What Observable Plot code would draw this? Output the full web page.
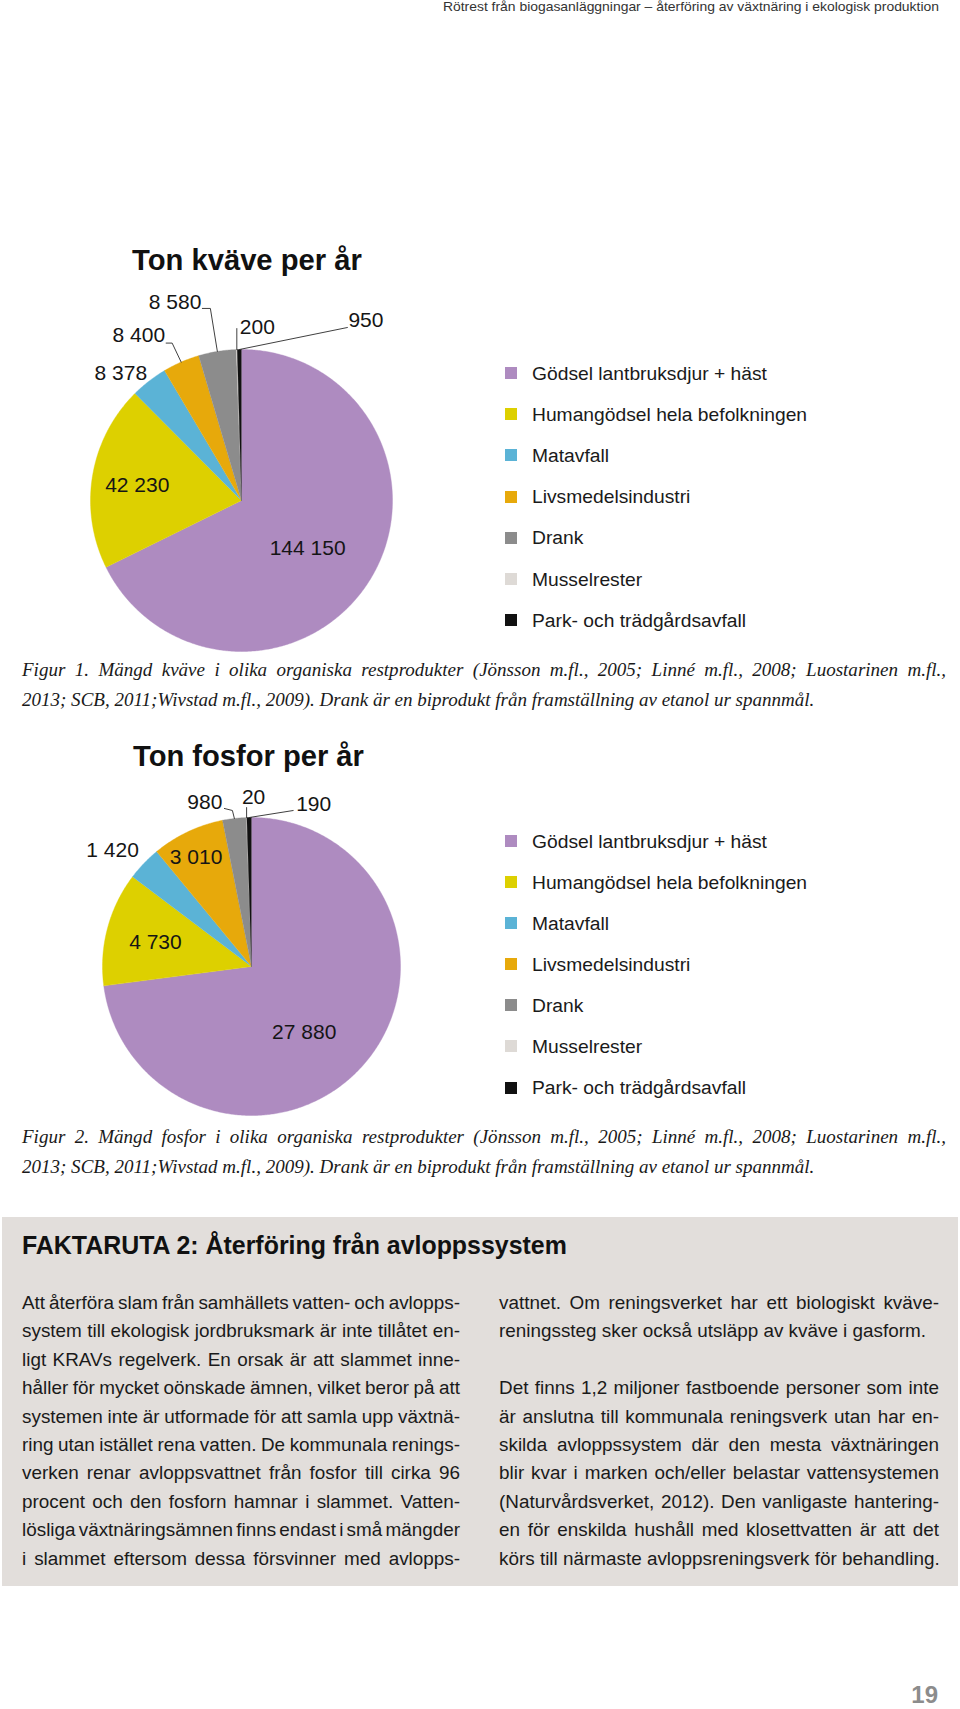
<!DOCTYPE html>
<html><head><meta charset="utf-8">
<script src="https://cdn.jsdelivr.net/npm/d3@7"></script>
<script src="https://cdn.jsdelivr.net/npm/@observablehq/plot@0.6"></script>
<style>
html,body{margin:0;padding:0;background:#fff;}
#page{position:relative;width:960px;height:1709px;overflow:hidden;font-family:"Liberation Sans",Arial,Helvetica,sans-serif;color:#1a1a1a;}
.abs{position:absolute;white-space:pre;line-height:1;}
#box{position:absolute;left:2px;top:1217px;width:956px;height:369px;background:#e2dedb;}
.sw{position:absolute;width:12px;height:12px;}
</style></head><body><div id="page"><div id="box"></div></div>
<script>
// ---------- data ----------
const categories = ["Gödsel lantbruksdjur + häst","Humangödsel hela befolkningen","Matavfall","Livsmedelsindustri","Drank","Musselrester","Park- och trädgårdsavfall"];
const colors = ["#ae8bc0","#ddd000","#5bb3d6","#e7a90b","#8c8c8c","#dedad6","#111111"];
const nitrogenValues = [144150, 42230, 8378, 8400, 8580, 200, 950];
const phosphorusValues = [27880, 4730, 1420, 3010, 980, 20, 190];
const nitrogenTitle = "Ton kväve per år";
const phosphorusTitle = "Ton fosfor per år";
const headerText = "Rötrest från biogasanläggningar – återföring av växtnäring i ekologisk produktion";
const caption1 = ["Figur 1. Mängd kväve i olika organiska restprodukter (Jönsson m.fl., 2005; Linné m.fl., 2008; Luostarinen m.fl.,",
  "2013; SCB, 2011;Wivstad m.fl., 2009). Drank är en biprodukt från framställning av etanol ur spannmål."];
const caption2 = ["Figur 2. Mängd fosfor i olika organiska restprodukter (Jönsson m.fl., 2005; Linné m.fl., 2008; Luostarinen m.fl.,",
  "2013; SCB, 2011;Wivstad m.fl., 2009). Drank är en biprodukt från framställning av etanol ur spannmål."];
const boxTitle = "FAKTARUTA 2: Återföring från avloppssystem";
const leftColumn = [
  "Att återföra slam från samhällets vatten- och avlopps-",
  "system till ekologisk jordbruksmark är inte tillåtet en-",
  "ligt KRAVs regelverk. En orsak är att slammet inne-",
  "håller för mycket oönskade ämnen, vilket beror på att",
  "systemen inte är utformade för att samla upp växtnä-",
  "ring utan istället rena vatten. De kommunala renings-",
  "verken renar avloppsvattnet från fosfor till cirka 96",
  "procent och den fosforn hamnar i slammet. Vatten-",
  "lösliga växtnäringsämnen finns endast i små mängder",
  "i slammet eftersom dessa försvinner med avlopps-"];
const rightColumn = [
  "vattnet. Om reningsverket har ett biologiskt kväve-",
  "reningssteg sker också utsläpp av kväve i gasform.",
  "",
  "Det finns 1,2 miljoner fastboende personer som inte",
  "är anslutna till kommunala reningsverk utan har en-",
  "skilda avloppssystem där den mesta växtnäringen",
  "blir kvar i marken och/eller belastar vattensystemen",
  "(Naturvårdsverket, 2012). Den vanligaste hantering-",
  "en för enskilda hushåll med klosettvatten är att det",
  "körs till närmaste avloppsreningsverk för behandling."];
const rightJustified = [true, false, false, true, true, true, true, true, true, false];
const pageNumber = "19";

// label placement (nudges in px, relative to slice geometry)
const nitrogenLabelLayout = [
  {mode:"in", k:0.50, dx:2, dy:8},
  {mode:"in", k:0.70, dx:0, dy:2},
  {mode:"out", leader:[], anchor:"end", dx:-2, dy:-8},
  {mode:"out", leader:[[-9,-19],[-15,-19]], anchor:"end", dx:-1, dy:-8},
  {mode:"out", leader:[[-7,-43],[-15,-43]], anchor:"end", dx:-1, dy:-6},
  {mode:"out", leader:[[0,-21]], anchor:"start", dx:3, dy:-1},
  {mode:"out", leader:[[108,-22]], anchor:"start", dx:1, dy:-7}
];
const phosphorusLabelLayout = [
  {mode:"in", k:0.56, dx:-10, dy:11},
  {mode:"in", k:0.66, dx:-1, dy:1},
  {mode:"out", leader:[], anchor:"end", dx:-5, dy:-13},
  {mode:"in", k:0.82, dx:-3, dy:1},
  {mode:"out", leader:[[-2,-8],[-10,-10]], anchor:"end", dx:-2, dy:-6},
  {mode:"out", leader:[[0,-10]], anchor:"middle", dx:7, dy:-10},
  {mode:"out", leader:[[44,-7]], anchor:"start", dx:3, dy:-6}
];

// ---------- helpers ----------
const page = document.getElementById("page");
const SANS = '"Liberation Sans", Arial, Helvetica, sans-serif';
const SERIF = '"Liberation Serif", "Times New Roman", serif';
const ASC = {sans: 0.8465, serif: 0.8375};
const fmt = d3.formatLocale({decimal: ",", thousands: "\u00a0", grouping: [3], currency: ["", " kr"]}).format(",d");

function measure(str, font) {
  const c = measure.c || (measure.c = document.createElement("canvas").getContext("2d"));
  c.font = font; return c.measureText(str).width;
}
function fitSize(str, base, target, weight, style, fam, lo, hi) {
  const w = measure(str, `${style||"normal"} ${weight||"normal"} ${base}px ${fam}`);
  return Math.max(lo, Math.min(hi, base * target / w));
}
function textAt(str, o) {
  const el = document.createElement("div");
  el.className = "abs";
  el.textContent = str;
  const fam = o.serif ? SERIF : SANS;
  el.style.fontFamily = fam;
  el.style.fontSize = o.size + "px";
  if (o.weight) el.style.fontWeight = o.weight;
  if (o.italic) el.style.fontStyle = "italic";
  if (o.color) el.style.color = o.color;
  el.style.top = (o.baseline - (o.serif ? ASC.serif : ASC.sans) * o.size) + "px";
  if (o.right != null) el.style.right = (960 - o.right) + "px"; else el.style.left = o.left + "px";
  page.appendChild(el);
  if (o.justifyTo) {
    const w = measure(str, `${o.italic?"italic":"normal"} ${o.weight||"normal"} ${o.size}px ${fam}`);
    const n = (str.match(/ /g) || []).length;
    if (n) el.style.wordSpacing = ((o.justifyTo - w) / n) + "px";
  }
  return el;
}

function pieChart(values, layout, g) {
  const arcs = d3.pie().sort(null).value(d => d)(values);
  const slices = [];
  arcs.forEach((a, i) => {
    const cat = categories[i];
    slices.push({cat, x: 0, y: 0});
    const n = Math.max(2, Math.ceil((a.endAngle - a.startAngle) / (Math.PI / 360)));
    for (let j = 0; j <= n; j++) {
      const t = a.startAngle + (a.endAngle - a.startAngle) * j / n;
      slices.push({cat, x: Math.sin(t), y: Math.cos(t)});
    }
  });
  const labels = [], leaders = [];
  arcs.forEach((a, i) => {
    const L = layout[i];
    const m = (a.startAngle + a.endAngle) / 2;
    const ux = Math.sin(m), uy = Math.cos(m);
    let px, py;
    if (L.mode === "in") { px = L.k * ux; py = L.k * uy; }
    else {
      px = ux; py = uy;
      if (L.leader.length) {
        leaders.push({id: i, x: ux, y: uy});
        L.leader.forEach(([ox, oy]) => leaders.push({id: i, x: ux + ox / g.r, y: uy - oy / g.r}));
        const last = L.leader[L.leader.length - 1];
        px = ux + last[0] / g.r; py = uy - last[1] / g.r;
      }
    }
    labels.push({value: values[i], anchor: L.anchor || "middle", x: px + L.dx / g.r, y: py - L.dy / g.r});
  });
  const textMark = (anchor) => Plot.text(labels.filter(d => d.anchor === anchor), {
    x: "x", y: "y", text: d => fmt(d.value), textAnchor: anchor,
    fontSize: 21, fill: "#151515", fontFamily: SANS
  });
  const svg = Plot.plot({
    width: g.W, height: g.H, margin: 0,
    x: {domain: [-g.cx / g.r, (g.W - g.cx) / g.r], range: [0, g.W], axis: null},
    y: {domain: [-(g.H - g.cy) / g.r, g.cy / g.r], range: [g.H, 0], axis: null},
    color: {type: "ordinal", domain: categories, range: colors},
    style: {fontFamily: SANS, background: "transparent", overflow: "visible"},
    marks: [
      Plot.line(slices, {x: "x", y: "y", z: "cat", fill: "cat", stroke: "cat", strokeWidth: 0.4}),
      Plot.line(leaders, {x: "x", y: "y", z: "id", stroke: "#2a2a2a", strokeWidth: 0.9}),
      textMark("start"), textMark("middle"), textMark("end")
    ]
  });
  svg.style.position = "absolute";
  svg.style.left = g.left + "px";
  svg.style.top = g.top + "px";
  page.appendChild(svg);
}

function legend(firstCenter, step) {
  const size = fitSize(categories[0], 19, 235, "normal", "normal", SANS, 17, 21);
  categories.forEach((c, i) => {
    const cy = firstCenter + i * step;
    const sw = document.createElement("div");
    sw.className = "sw";
    sw.style.left = "505px"; sw.style.top = (cy - 6) + "px"; sw.style.background = colors[i];
    page.appendChild(sw);
    textAt(c, {left: 532, baseline: cy + 0.358 * size, size, color: "#1a1a1a"});
  });
}

// ---------- header ----------
{
  const el = textAt(headerText, {right: 939, baseline: 11.5, size: 13, color: "#333"});
  const w = measure(headerText, `normal normal 13px ${SANS}`);
  el.style.transformOrigin = "right center";
  el.style.transform = `scaleX(${496 / w})`;
}

// ---------- figure 1 ----------
{
  const ts = fitSize(nitrogenTitle, 28, 230, "bold", "normal", SANS, 25, 31);
  textAt(nitrogenTitle, {left: 132, baseline: 271, size: ts, weight: "bold", color: "#111"});
  pieChart(nitrogenValues, nitrogenLabelLayout, {left: 0, top: 280, W: 480, H: 380, cx: 241, cy: 220, r: 151});
  legend(373, 41.2);
  const cs = fitSize(caption1[1], 19, 793, "normal", "italic", SERIF, 17, 21);
  textAt(caption1[0], {left: 22, baseline: 676, size: cs, serif: true, italic: true, justifyTo: 924, color: "#1a1a1a"});
  textAt(caption1[1], {left: 22, baseline: 705.5, size: cs, serif: true, italic: true, color: "#1a1a1a"});
}

// ---------- figure 2 ----------
{
  const ts = fitSize(phosphorusTitle, 28, 231, "bold", "normal", SANS, 25, 31);
  textAt(phosphorusTitle, {left: 133, baseline: 767, size: ts, weight: "bold", color: "#111"});
  pieChart(phosphorusValues, phosphorusLabelLayout, {left: 0, top: 780, W: 480, H: 345, cx: 251, cy: 186, r: 149});
  legend(841.2, 41.05);
  const cs = fitSize(caption2[1], 19, 793, "normal", "italic", SERIF, 17, 21);
  textAt(caption2[0], {left: 22, baseline: 1143, size: cs, serif: true, italic: true, justifyTo: 924, color: "#1a1a1a"});
  textAt(caption2[1], {left: 22, baseline: 1172.5, size: cs, serif: true, italic: true, color: "#1a1a1a"});
}

// ---------- fact box ----------
{
  const bs = fitSize(boxTitle, 24.5, 546, "bold", "normal", SANS, 22, 27);
  textAt(boxTitle, {left: 22, baseline: 1254, size: bs, weight: "bold", color: "#111"});
  const fs = fitSize(rightColumn[9], 19, 441, "normal", "normal", SANS, 17, 20);
  const lh = 28.4, b0 = 1310;
  leftColumn.forEach((s, i) => textAt(s, {left: 22, baseline: b0 + i * lh, size: fs, justifyTo: 438, color: "#1a1a1a"}));
  rightColumn.forEach((s, i) => { if (s) textAt(s, {left: 499, baseline: b0 + i * lh, size: fs, justifyTo: rightJustified[i] ? 440 : null, color: "#1a1a1a"}); });
}

// ---------- page number ----------
textAt(pageNumber, {right: 938, baseline: 1703, size: 24, weight: "bold", color: "#8c8c8c"});
</script>
</body></html>
